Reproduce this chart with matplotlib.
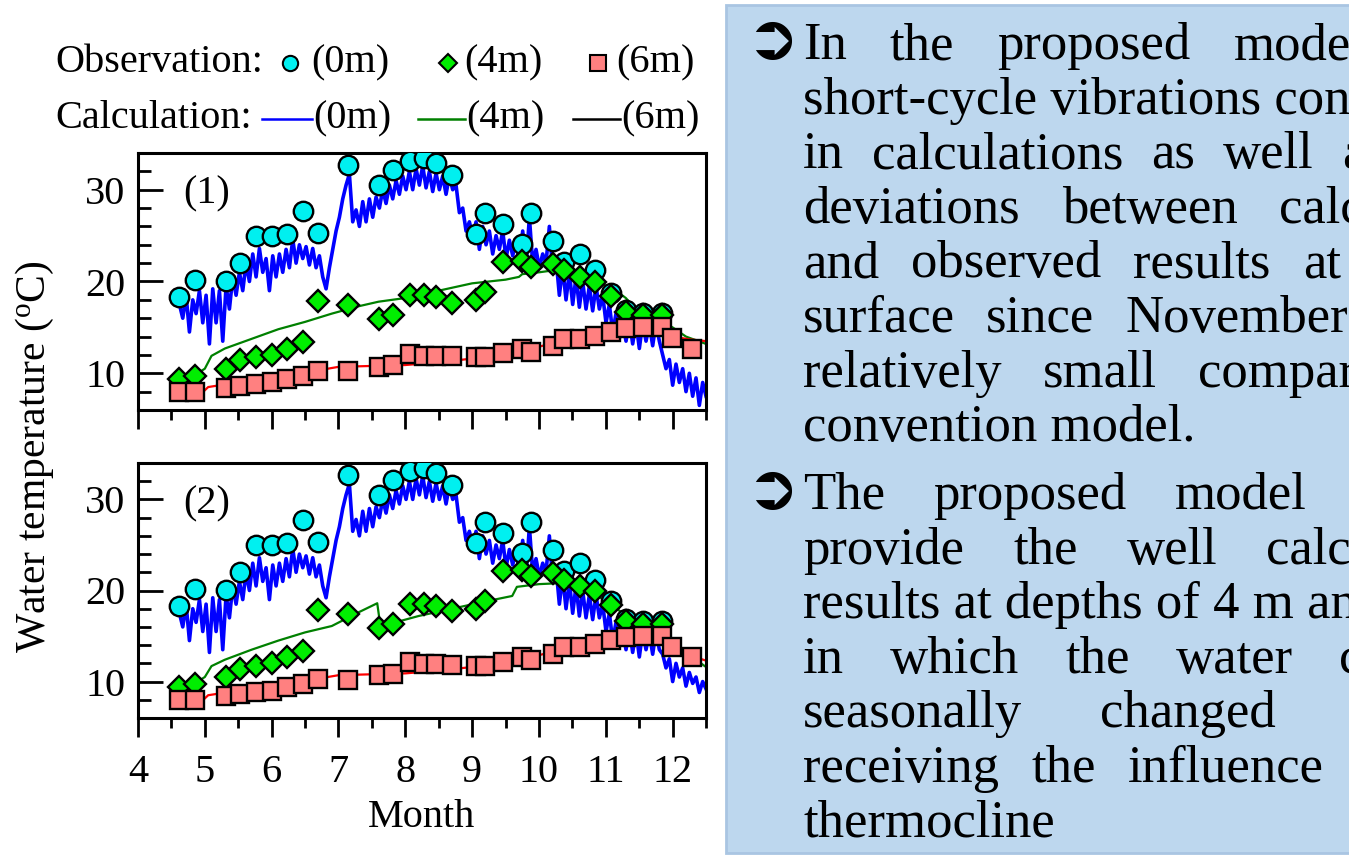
import matplotlib
matplotlib.use("Agg")
import matplotlib.pyplot as plt
import numpy as np
from matplotlib.lines import Line2D
from matplotlib.patches import Rectangle
from matplotlib.ticker import MultipleLocator

plt.rcParams['font.family'] = ['Liberation Serif', 'DejaVu Serif']
plt.rcParams['mathtext.fontset'] = 'custom'
plt.rcParams['mathtext.rm'] = 'Liberation Serif'
plt.rcParams['mathtext.it'] = 'Liberation Serif:italic'

W, H = 1349, 858

# observed values (month, deg C)
obs_month = [4.62, 4.85, 5.31, 5.53, 5.77, 6.00, 6.23, 6.47, 6.70, 7.15,
             7.60, 7.82, 8.07, 8.28, 8.46, 8.70, 9.06, 9.19, 9.46, 9.74,
             9.88, 10.21, 10.38, 10.61, 10.84, 11.08, 11.31, 11.55, 11.84]
obs_month_6m = obs_month + [11.99, 12.29]
obs_0m = [18.3, 20.2, 20.1, 22.0, 24.95, 24.95, 25.2, 27.7, 25.3, 32.7,
          30.5, 32.1, 33.1, 33.5, 32.9, 31.6, 25.2, 27.5, 26.3, 24.1,
          27.5, 24.4, 22.1, 23.0, 21.2, 18.8, 16.9, 16.6, 16.6]
obs_4m = [9.4, 9.75, 10.5, 11.4, 11.75, 12.0, 12.7, 13.4, 17.9, 17.4,
          15.9, 16.3, 18.5, 18.55, 18.3, 17.7, 18.0, 18.9, 22.1, 22.2,
          21.6, 21.9, 21.2, 20.5, 19.9, 18.4, 16.7, 16.3, 16.3]
obs_6m = [7.94, 8.0, 8.4, 8.65, 8.85, 9.0, 9.4, 9.75, 10.3, 10.2,
          10.7, 10.85, 12.1, 11.9, 11.9, 11.85, 11.75, 11.75, 12.2, 12.65,
          12.35, 13.0, 13.75, 13.75, 14.1, 14.55, 14.9, 15.0, 15.0, 13.8, 12.65]

# calculated surface temperature, panel (1), from 4.62 to 12.5
calc_0m = [17.5, 16.0, 18.5, 14.5, 18.0, 16.5, 19.0, 15.5, 18.5, 13.2,
           19.2, 15.5, 19.0, 13.5, 19.5, 17.0, 20.5, 18.5, 21.0, 19.0,
           22.0, 20.0, 23.0, 20.5, 23.6, 21.0, 22.5, 19.0, 22.8, 20.5,
           23.0, 21.0, 23.5, 21.5, 24.6, 22.0, 24.0, 22.5, 23.8, 21.8,
           23.6, 21.5, 22.8, 20.5, 19.2, 21.5, 23.5, 25.5, 27.0, 29.0,
           30.5, 31.7, 26.5, 27.8, 26.0, 28.7, 26.5, 29.0, 27.0, 29.2,
           28.0, 30.0, 28.5, 30.5, 29.0, 31.0, 29.5, 31.5, 30.0, 32.0,
           30.0, 32.3, 30.5, 32.6, 30.2, 32.0, 29.8, 31.8, 30.0, 31.5,
           29.5, 31.5, 30.0, 30.5, 27.5, 28.0, 25.5, 26.5, 25.0, 26.5,
           23.5, 26.0, 24.0, 25.5, 23.0, 25.0, 23.5, 25.5, 22.5, 24.5,
           22.8, 24.5, 22.0, 25.5, 21.5, 27.0, 22.0, 23.5, 21.5, 23.0,
           22.0, 26.0, 21.0, 22.5, 18.5, 21.5, 18.0, 21.0, 17.5, 20.5,
           17.2, 20.0, 17.0, 19.5, 16.8, 19.5, 17.0, 18.5, 15.5, 17.5,
           14.5, 16.5, 13.8, 15.5, 13.5, 15.8, 13.2, 15.5, 12.7, 15.5,
           13.5, 15.3, 13.0, 15.5, 13.5, 12.0, 10.5, 11.5, 8.7, 11.0,
           9.0, 10.5, 8.0, 10.0, 7.5, 9.5, 6.5, 9.0, 7.5]
# panel (2) differs only over the last two weeks
calc_0m_tail_2 = [13.0, 11.5, 12.5, 10.0, 12.0, 10.5, 11.5, 9.5, 11.0, 9.8,
                  10.5, 8.8, 10.0, 9.2]

calc_4m_month_1 = [4.62, 4.85, 5.00, 5.10, 5.30, 5.70, 6.10, 6.50, 6.90, 7.30,
                   7.60, 8.00, 8.50, 9.00, 9.50, 9.70, 9.75, 10.00, 10.20, 10.40,
                   10.70, 10.90, 11.10, 11.30, 11.45, 11.70, 12.00, 12.20, 12.50]
calc_4m_1 = [9.1, 9.8, 10.5, 11.9, 12.7, 13.75, 14.8, 15.6, 16.5, 17.3,
             17.8, 18.2, 19.0, 19.8, 20.2, 20.5, 20.8, 21.0, 21.2, 21.0,
             20.3, 19.8, 19.3, 18.2, 17.0, 16.3, 15.0, 14.0, 13.2]
calc_4m_month_2 = [4.62, 4.85, 5.00, 5.10, 5.30, 5.70, 6.10, 6.50, 6.90, 7.30,
                   7.58, 7.62, 7.85, 8.20, 8.70, 9.20, 9.60, 9.67, 10.00, 10.30,
                   10.60, 11.00, 11.30, 11.60, 11.90, 12.20, 12.50]
calc_4m_2 = [9.2, 9.8, 10.5, 11.7, 12.4, 13.5, 14.5, 15.4, 16.1, 17.6,
             18.6, 16.5, 16.5, 17.2, 18.0, 18.8, 19.4, 20.4, 20.7, 20.8,
             20.0, 19.0, 17.2, 16.2, 15.0, 13.2, 11.6]

calc_6m_month = [4.62, 4.95, 5.05, 5.40, 5.80, 6.20, 6.60, 7.00, 7.50, 8.00,
                 8.50, 9.00, 9.50, 10.00, 10.50, 11.00, 11.50, 11.80, 12.00, 12.25, 12.50]
calc_6m_1 = [7.6, 7.8, 8.5, 8.9, 9.3, 9.7, 10.2, 10.7, 10.8, 10.9,
             11.2, 11.6, 12.2, 12.9, 13.8, 14.3, 14.6, 14.5, 14.0, 13.7, 13.5]
calc_6m_2 = [7.6, 7.8, 8.5, 8.9, 9.3, 9.7, 10.2, 10.7, 10.8, 10.9,
             11.2, 11.6, 12.2, 12.9, 13.8, 14.3, 14.6, 14.5, 13.6, 12.9, 12.3]

calc_0m_2 = calc_0m[:-len(calc_0m_tail_2)] + calc_0m_tail_2
calc_0m_month = np.linspace(4.62, 12.5, len(calc_0m))

FS = 29
fig = plt.figure(figsize=(W / 100, H / 100), dpi=100)


def panel(rect, blue, g_m, g_v, r_v, tag, last):
    ax = fig.add_axes(rect)
    ax.plot(calc_0m_month, blue, color='#0000ff', lw=2.6, zorder=2)
    ax.plot(g_m, g_v, color='#008000', lw=1.6, zorder=2)
    ax.plot(calc_6m_month, r_v, color='#ff0000', lw=1.6, zorder=2)
    ax.plot(obs_month, obs_0m, 'o', ms=14, mfc='#00f0f0', mec='black', mew=1.7, zorder=3)
    ax.plot(obs_month, obs_4m, 'D', ms=11, mfc='#00ee00', mec='black', mew=1.7, zorder=4)
    ax.plot(obs_month_6m, obs_6m, 's', ms=13.5, mfc='#ff8080', mec='black', mew=1.7, zorder=5)
    ax.set_xlim(4, 12.5)
    ax.set_ylim(6, 34)
    ax.xaxis.set_major_locator(MultipleLocator(1))
    ax.xaxis.set_minor_locator(MultipleLocator(0.5))
    ax.yaxis.set_major_locator(MultipleLocator(10))
    ax.yaxis.set_minor_locator(MultipleLocator(2))
    ax.tick_params(axis='y', which='major', direction='in', length=18, width=2,
                   labelsize=FS, pad=9)
    ax.tick_params(axis='y', which='minor', direction='in', length=9, width=2)
    ax.tick_params(axis='x', which='major', direction='out', length=14, width=2,
                   labelsize=FS, pad=12, labelbottom=last)
    ax.tick_params(axis='x', which='minor', direction='out', length=7, width=2)
    for s in ax.spines.values():
        s.set_linewidth(2.2)
    ax.text(0.08, 0.84, tag, transform=ax.transAxes, fontsize=FS, va='center')
    return ax


ax1 = panel([138 / W, 1 - 410 / H, 568 / W, 257 / H], calc_0m,
            calc_4m_month_1, calc_4m_1, calc_6m_1, '(1)', False)
ax2 = panel([138 / W, 1 - 718 / H, 568 / W, 255 / H], calc_0m_2,
            calc_4m_month_2, calc_4m_2, calc_6m_2, '(2)', True)
ax2.set_xlabel('Month', fontsize=FS, labelpad=6)
fig.text(35 / W, 1 - 457 / H, r'Water temperature ($^{\rm o}$C)', rotation=90,
         fontsize=FS + 1, ha='center', va='center')

# legend rows
y1, y2 = 1 - 63 / H, 1 - 119 / H
fig.text(55 / W, y1, 'Observation:', fontsize=FS, va='center')
fig.text(55 / W, y2, 'Calculation:', fontsize=FS, va='center')
for xm, mk, fc, ms, xt, lab in [(290, 'o', '#00f0f0', 11, 311, '(0m)'),
                               (448, 'D', '#00ee00', 9, 464, '(4m)'),
                               (598, 's', '#ff8080', 11.5, 616, '(6m)')]:
    fig.add_artist(Line2D([xm / W], [y1], marker=mk, ms=ms, mfc=fc, mec='black',
                          mew=1.5, transform=fig.transFigure))
    fig.text(xt / W, y1, lab, fontsize=FS, va='center')
for x0, x1, col, lab in [(262, 312, '#0000ff', '(0m)'),
                         (418, 465, '#008000', '(4m)'),
                         (573, 620, 'black', '(6m)')]:
    fig.add_artist(Line2D([x0 / W, x1 / W], [y2, y2], color=col, lw=1.8,
                          transform=fig.transFigure))
    fig.text((x1 + 1) / W, y2, lab, fontsize=FS, va='center')

# text panel on the right
fig.add_artist(Rectangle((726 / W, 5 / H), 1 - 726 / W + 0.01, 848 / H,
                         transform=fig.transFigure, fc='#bdd7ee', ec='#a9c5e2', lw=2))

TS = 38
X0 = 803
renderer = fig.canvas.get_renderer()


def put_line(words, base, gap=None):
    y = 1 - base / H
    if gap is None:
        fig.text(X0 / W, y, ' '.join(words), fontsize=TS, va='baseline')
        return
    x = X0
    for w in words:
        t = fig.text(x / W, y, w, fontsize=TS, va='baseline')
        x += t.get_window_extent(renderer).width + gap


bullet_1 = [(['In', 'the', 'proposed', 'model,'], 43),
            (['short-cycle', 'vibrations', 'contained'], None),
            (['in', 'calculations', 'as', 'well', 'as'], 28),
            (['deviations', 'between', 'calculated'], 42),
            (['and', 'observed', 'results', 'at', 'the'], 32),
            (['surface', 'since', 'November', 'are'], 31),
            (['relatively', 'small', 'compared'], 41),
            (['convention', 'model.'], None)]
bullet_2 = [(['The', 'proposed', 'model', 'can'], 48),
            (['provide', 'the', 'well', 'calculated'], 49),
            (['results', 'at', 'depths', 'of', '4', 'm', 'and'], None),
            (['in', 'which', 'the', 'water', 'changes'], 46),
            (['seasonally', 'changed', 'by'], 78),
            (['receiving', 'the', 'influence', 'of'], 32),
            (['thermocline'], None)]

for start, lines in [(59, bullet_1), (509, bullet_2)]:
    fig.text(772 / W, 1 - (start - 18) / H, '\u27b2', fontsize=46,
             family='DejaVu Sans', va='center', ha='center')
    for i, (words, gap) in enumerate(lines):
        put_line(words, start + 54.6 * i, gap)

fig.savefig('out.png', dpi=100)
